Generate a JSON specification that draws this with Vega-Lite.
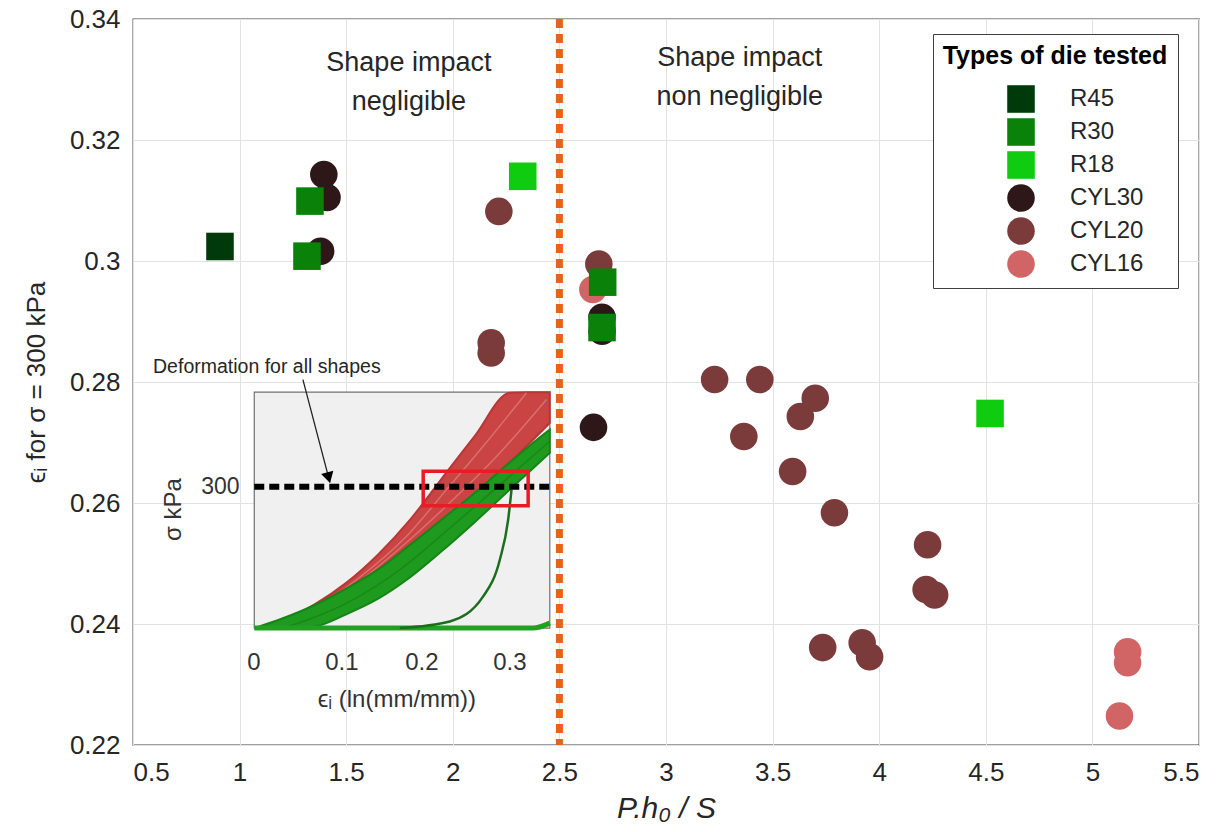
{
  "$schema": "https://vega.github.io/schema/vega-lite/v6.json",
  "autosize": {"type": "none"},
  "width": 1066,
  "height": 726,
  "padding": {"left": 133, "top": 19, "right": 26, "bottom": 87},
  "background": "white",
  "config": {
    "font": "Liberation Sans",
    "view": {"stroke": "#404040", "strokeWidth": 1.3},
    "axis": {"gridColor": "#E2E2E2", "gridWidth": 1, "domain": false, "labelColor": "#262626", "titleColor": "#262626", "tickColor": "#404040"}
  },
  "datasets": {
    "pts": [
      {"x": 2.657, "y": 0.2953, "die": "CYL16"},
      {"x": 5.165, "y": 0.2354, "die": "CYL16"},
      {"x": 5.165, "y": 0.2336, "die": "CYL16"},
      {"x": 5.127, "y": 0.2248, "die": "CYL16"},
      {"x": 2.216, "y": 0.3082, "die": "CYL20"},
      {"x": 2.18, "y": 0.2865, "die": "CYL20"},
      {"x": 2.18, "y": 0.2848, "die": "CYL20"},
      {"x": 2.685, "y": 0.2995, "die": "CYL20"},
      {"x": 3.228, "y": 0.2804, "die": "CYL20"},
      {"x": 3.44, "y": 0.2804, "die": "CYL20"},
      {"x": 3.70, "y": 0.2773, "die": "CYL20"},
      {"x": 3.63, "y": 0.2743, "die": "CYL20"},
      {"x": 3.365, "y": 0.271, "die": "CYL20"},
      {"x": 3.594, "y": 0.2652, "die": "CYL20"},
      {"x": 3.79, "y": 0.2584, "die": "CYL20"},
      {"x": 4.227, "y": 0.2531, "die": "CYL20"},
      {"x": 4.22, "y": 0.2457, "die": "CYL20"},
      {"x": 4.26, "y": 0.2448, "die": "CYL20"},
      {"x": 3.735, "y": 0.2361, "die": "CYL20"},
      {"x": 3.92, "y": 0.2369, "die": "CYL20"},
      {"x": 3.955, "y": 0.2346, "die": "CYL20"},
      {"x": 1.395, "y": 0.3143, "die": "CYL30"},
      {"x": 1.41, "y": 0.3105, "die": "CYL30"},
      {"x": 1.38, "y": 0.3016, "die": "CYL30"},
      {"x": 2.70, "y": 0.2907, "die": "CYL30"},
      {"x": 2.70, "y": 0.2884, "die": "CYL30"},
      {"x": 2.66, "y": 0.2725, "die": "CYL30"},
      {"x": 0.908, "y": 0.3024, "die": "R45"},
      {"x": 1.33, "y": 0.3099, "die": "R30"},
      {"x": 1.316, "y": 0.3008, "die": "R30"},
      {"x": 2.703, "y": 0.2965, "die": "R30"},
      {"x": 2.70, "y": 0.289, "die": "R30"},
      {"x": 2.328, "y": 0.314, "die": "R18"},
      {"x": 4.52, "y": 0.2748, "die": "R18"}
    ],
    "bands": [
      {"b": "red", "x": 1.0688, "lo": 0.23932, "hi": 0.23932},
      {"b": "red", "x": 1.2, "lo": 0.2403, "hi": 0.2406},
      {"b": "red", "x": 1.35, "lo": 0.2417, "hi": 0.2432},
      {"b": "red", "x": 1.5, "lo": 0.24506, "hi": 0.2468},
      {"b": "red", "x": 1.65, "lo": 0.24885, "hi": 0.2515},
      {"b": "red", "x": 1.8, "lo": 0.25308, "hi": 0.25725},
      {"b": "red", "x": 1.95, "lo": 0.25704, "hi": 0.26413},
      {"b": "red", "x": 2.1, "lo": 0.26118, "hi": 0.27093},
      {"b": "red", "x": 2.2675, "lo": 0.26671, "hi": 0.27821},
      {"b": "red", "x": 2.35, "lo": 0.26954, "hi": 0.27832},
      {"b": "red", "x": 2.455, "lo": 0.27325, "hi": 0.27832},
      {"b": "green", "x": 1.0688, "lo": 0.23932, "hi": 0.23932},
      {"b": "green", "x": 1.2, "lo": 0.23932, "hi": 0.2409},
      {"b": "green", "x": 1.35, "lo": 0.23959, "hi": 0.2431},
      {"b": "green", "x": 1.5, "lo": 0.24161, "hi": 0.24585},
      {"b": "green", "x": 1.65, "lo": 0.24418, "hi": 0.24902},
      {"b": "green", "x": 1.8, "lo": 0.24772, "hi": 0.25309},
      {"b": "green", "x": 1.95, "lo": 0.25209, "hi": 0.25732},
      {"b": "green", "x": 2.1, "lo": 0.25675, "hi": 0.26156},
      {"b": "green", "x": 2.2675, "lo": 0.26221, "hi": 0.26673},
      {"b": "green", "x": 2.35, "lo": 0.26488, "hi": 0.26918},
      {"b": "green", "x": 2.455, "lo": 0.26828, "hi": 0.27214}
    ],
    "curves": [
      {"s": "R2", "x": 1.0688, "y": 0.23932},
      {"s": "R2", "x": 1.3142, "y": 0.2418},
      {"s": "R2", "x": 1.5486, "y": 0.24731},
      {"s": "R2", "x": 1.783, "y": 0.25449},
      {"s": "R2", "x": 1.9706, "y": 0.26221},
      {"s": "R2", "x": 2.1425, "y": 0.26938},
      {"s": "R2", "x": 2.3456, "y": 0.27821},
      {"s": "R3", "x": 1.0688, "y": 0.23932},
      {"s": "R3", "x": 1.3376, "y": 0.2418},
      {"s": "R3", "x": 1.5721, "y": 0.24731},
      {"s": "R3", "x": 1.8065, "y": 0.25421},
      {"s": "R3", "x": 2.0174, "y": 0.26111},
      {"s": "R3", "x": 2.2206, "y": 0.26828},
      {"s": "R3", "x": 2.4394, "y": 0.27711},
      {"s": "G2", "x": 1.2048, "y": 0.23932},
      {"s": "G2", "x": 1.5174, "y": 0.24373},
      {"s": "G2", "x": 1.7518, "y": 0.24897},
      {"s": "G2", "x": 1.9862, "y": 0.25587},
      {"s": "G2", "x": 2.205, "y": 0.26249},
      {"s": "G2", "x": 2.455, "y": 0.27021},
      {"s": "S", "x": 1.7518, "y": 0.23932},
      {"s": "S", "x": 1.9862, "y": 0.24042},
      {"s": "S", "x": 2.1425, "y": 0.24456},
      {"s": "S", "x": 2.2206, "y": 0.25062},
      {"s": "S", "x": 2.2597, "y": 0.25725},
      {"s": "S", "x": 2.2753, "y": 0.26221},
      {"s": "B", "x": 1.0688, "y": 0.23932},
      {"s": "B", "x": 2.3769, "y": 0.23932},
      {"s": "B", "x": 2.455, "y": 0.24014}
    ]
  },
  "layer": [
    {
      "data": {"values": [{"x": 1.0688, "x2": 2.455, "y": 0.23932, "y2": 0.27832}]},
      "mark": {"type": "rect", "fill": "#F0F0F0", "stroke": "#707070", "strokeWidth": 1.2},
      "encoding": {
        "x": {"field": "x", "type": "quantitative", "scale": {"domain": [0.5, 5.5], "nice": false, "zero": false},
          "axis": {"values": [0.5, 1, 1.5, 2, 2.5, 3, 3.5, 4, 4.5, 5, 5.5], "format": "~g", "labelFontSize": 26, "labelPadding": 14, "ticks": false,
            "title": "P.h₀ / S", "titleFontSize": 30, "titleFontStyle": "italic", "titleFontWeight": "normal", "titlePadding": 8}},
        "x2": {"field": "x2"},
        "y": {"field": "y", "type": "quantitative", "scale": {"domain": [0.22, 0.34], "nice": false, "zero": false},
          "axis": {"values": [0.22, 0.24, 0.26, 0.28, 0.3, 0.32, 0.34], "format": "~g", "labelFontSize": 26, "labelPadding": 13, "ticks": false,
            "title": "ϵᵢ for σ = 300 kPa", "titleFontSize": 26, "titleFontWeight": "normal", "titlePadding": 20}},
        "y2": {"field": "y2"}
      }
    },
    {
      "data": {"name": "bands"},
      "transform": [{"filter": "datum.b === 'red'"}],
      "mark": {"type": "area", "color": "#C94442", "opacity": 1, "interpolate": "monotone", "stroke": "#B83636", "strokeWidth": 2},
      "encoding": {
        "x": {"field": "x", "type": "quantitative", "scale": {"domain": [0.5, 5.5]}},
        "y": {"field": "lo", "type": "quantitative", "scale": {"domain": [0.22, 0.34]}},
        "y2": {"field": "hi"}
      }
    },
    {
      "data": {"name": "curves"},
      "transform": [{"filter": "datum.s === 'R2' || datum.s === 'R3'"}],
      "mark": {"type": "line", "color": "#E07A78", "strokeWidth": 1.5, "opacity": 0.8, "interpolate": "monotone"},
      "encoding": {
        "x": {"field": "x", "type": "quantitative", "scale": {"domain": [0.5, 5.5]}},
        "y": {"field": "y", "type": "quantitative", "scale": {"domain": [0.22, 0.34]}},
        "detail": {"field": "s"}
      }
    },
    {
      "data": {"name": "bands"},
      "transform": [{"filter": "datum.b === 'green'"}],
      "mark": {"type": "area", "color": "#1E9A1E", "opacity": 1, "interpolate": "monotone", "stroke": "#178417", "strokeWidth": 2},
      "encoding": {
        "x": {"field": "x", "type": "quantitative", "scale": {"domain": [0.5, 5.5]}},
        "y": {"field": "lo", "type": "quantitative", "scale": {"domain": [0.22, 0.34]}},
        "y2": {"field": "hi"}
      }
    },
    {
      "data": {"name": "curves"},
      "transform": [{"filter": "datum.s === 'G2'"}],
      "mark": {"type": "line", "color": "#168016", "strokeWidth": 1.5, "opacity": 0.7, "interpolate": "monotone"},
      "encoding": {
        "x": {"field": "x", "type": "quantitative", "scale": {"domain": [0.5, 5.5]}},
        "y": {"field": "y", "type": "quantitative", "scale": {"domain": [0.22, 0.34]}}
      }
    },
    {
      "data": {"name": "curves"},
      "transform": [{"filter": "datum.s === 'B'"}],
      "mark": {"type": "line", "color": "#22A022", "strokeWidth": 5, "interpolate": "monotone"},
      "encoding": {
        "x": {"field": "x", "type": "quantitative", "scale": {"domain": [0.5, 5.5]}},
        "y": {"field": "y", "type": "quantitative", "scale": {"domain": [0.22, 0.34]}}
      }
    },
    {
      "data": {"name": "curves"},
      "transform": [{"filter": "datum.s === 'S'"}],
      "mark": {"type": "line", "color": "#1C6E1C", "strokeWidth": 2.5, "interpolate": "monotone"},
      "encoding": {
        "x": {"field": "x", "type": "quantitative", "scale": {"domain": [0.5, 5.5]}},
        "y": {"field": "y", "type": "quantitative", "scale": {"domain": [0.22, 0.34]}}
      }
    },
    {
      "data": {"values": [{"x": 1.0688, "x2": 2.455, "y": 0.2627}]},
      "mark": {"type": "rule", "color": "black", "strokeWidth": 6, "strokeDash": [10, 5]},
      "encoding": {
        "x": {"field": "x", "type": "quantitative", "scale": {"domain": [0.5, 5.5]}},
        "x2": {"field": "x2"},
        "y": {"field": "y", "type": "quantitative", "scale": {"domain": [0.22, 0.34]}}
      }
    },
    {
      "data": {"values": [{"x": 1.8612, "x2": 2.3534, "y": 0.25956, "y2": 0.26526}]},
      "mark": {"type": "rect", "fill": null, "fillOpacity": 0, "stroke": "#E81C24", "strokeWidth": 3.5},
      "encoding": {
        "x": {"field": "x", "type": "quantitative", "scale": {"domain": [0.5, 5.5]}},
        "x2": {"field": "x2"},
        "y": {"field": "y", "type": "quantitative", "scale": {"domain": [0.22, 0.34]}},
        "y2": {"field": "y2"}
      }
    },
    {
      "data": {"values": [{"x": 2.5}]},
      "mark": {"type": "rule", "color": "#E8631A", "strokeWidth": 7, "strokeDash": [9, 6]},
      "encoding": {
        "x": {"field": "x", "type": "quantitative", "scale": {"domain": [0.5, 5.5]}}
      }
    },
    {
      "data": {"name": "pts"},
      "mark": {"type": "point", "filled": true, "opacity": 1, "strokeWidth": 0},
      "encoding": {
        "x": {"field": "x", "type": "quantitative", "scale": {"domain": [0.5, 5.5]}},
        "y": {"field": "y", "type": "quantitative", "scale": {"domain": [0.22, 0.34]}},
        "color": {"field": "die", "type": "nominal", "title": "Types of die tested",
          "scale": {"domain": ["R45", "R30", "R18", "CYL30", "CYL20", "CYL16"], "range": ["#013A0A", "#0A820A", "#10CC10", "#2E1719", "#7B3B3B", "#D16565"]},
          "legend": {"orient": "none", "legendX": 800, "legendY": 15, "strokeColor": "#404040", "fillColor": "white", "padding": 10,
            "titleFontSize": 25, "titleFontWeight": "bold", "titleColor": "black", "titleAnchor": "middle", "titlePadding": 16, "titleLimit": 400,
            "labelFontSize": 24, "labelColor": "#262626", "symbolOffset": 41, "labelOffset": 35, "rowPadding": 5, "symbolStrokeWidth": 0}},
        "shape": {"field": "die", "type": "nominal", "title": "Types of die tested",
          "scale": {"domain": ["R45", "R30", "R18", "CYL30", "CYL20", "CYL16"], "range": ["square", "square", "square", "circle", "circle", "circle"]}},
        "size": {"field": "die", "type": "nominal", "title": "Types of die tested",
          "scale": {"domain": ["R45", "R30", "R18", "CYL30", "CYL20", "CYL16"], "range": [760, 760, 760, 1040, 1040, 1040]}}
      }
    },
    {
      "data": {"values": [
        {"x": 1.794, "y": 0.33139, "t": "Shape impact"},
        {"x": 1.794, "y": 0.32494, "t": "negligible"},
        {"x": 3.346, "y": 0.33222, "t": "Shape impact"},
        {"x": 3.346, "y": 0.32577, "t": "non negligible"}
      ]},
      "mark": {"type": "text", "fontSize": 27, "color": "#262626", "align": "center", "baseline": "alphabetic"},
      "encoding": {
        "x": {"field": "x", "type": "quantitative", "scale": {"domain": [0.5, 5.5]}},
        "y": {"field": "y", "type": "quantitative", "scale": {"domain": [0.22, 0.34]}},
        "text": {"field": "t"}
      }
    },
    {
      "data": {"values": [{"x": 0.594, "y": 0.2824, "t": "Deformation for all shapes"}]},
      "mark": {"type": "text", "fontSize": 19.5, "color": "#262626", "align": "left", "baseline": "middle"},
      "encoding": {
        "x": {"field": "x", "type": "quantitative", "scale": {"domain": [0.5, 5.5]}},
        "y": {"field": "y", "type": "quantitative", "scale": {"domain": [0.22, 0.34]}},
        "text": {"field": "t"}
      }
    },
    {
      "data": {"values": [
        {"x": 1.0673, "y": 0.23358, "t": "0"},
        {"x": 1.4798, "y": 0.23358, "t": "0.1"},
        {"x": 1.855, "y": 0.23358, "t": "0.2"},
        {"x": 2.2675, "y": 0.23358, "t": "0.3"},
        {"x": 1.7377, "y": 0.2275, "t": "ϵᵢ (ln(mm/mm))"}
      ]},
      "mark": {"type": "text", "fontSize": 24, "color": "#333333", "align": "center", "baseline": "middle"},
      "encoding": {
        "x": {"field": "x", "type": "quantitative", "scale": {"domain": [0.5, 5.5]}},
        "y": {"field": "y", "type": "quantitative", "scale": {"domain": [0.22, 0.34]}},
        "text": {"field": "t"}
      }
    },
    {
      "data": {"values": [{"x": 1.0, "y": 0.2627, "t": "300"}]},
      "mark": {"type": "text", "fontSize": 23, "color": "#333333", "align": "right", "baseline": "middle"},
      "encoding": {
        "x": {"field": "x", "type": "quantitative", "scale": {"domain": [0.5, 5.5]}},
        "y": {"field": "y", "type": "quantitative", "scale": {"domain": [0.22, 0.34]}},
        "text": {"field": "t"}
      }
    },
    {
      "data": {"values": [{"x": 0.692, "y": 0.2589, "t": "σ kPa"}]},
      "mark": {"type": "text", "fontSize": 24, "color": "#333333", "align": "center", "baseline": "middle", "angle": 270},
      "encoding": {
        "x": {"field": "x", "type": "quantitative", "scale": {"domain": [0.5, 5.5]}},
        "y": {"field": "y", "type": "quantitative", "scale": {"domain": [0.22, 0.34]}},
        "text": {"field": "t"}
      }
    },
    {
      "data": {"values": [{"x": 1.297, "y": 0.2804, "x2": 1.4236, "y2": 0.2634}]},
      "mark": {"type": "rule", "color": "#222222", "strokeWidth": 1.3},
      "encoding": {
        "x": {"field": "x", "type": "quantitative", "scale": {"domain": [0.5, 5.5]}},
        "y": {"field": "y", "type": "quantitative", "scale": {"domain": [0.22, 0.34]}},
        "x2": {"field": "x2"},
        "y2": {"field": "y2"}
      }
    },
    {
      "data": {"values": [{"x": 1.4176, "y": 0.2642}]},
      "mark": {"type": "point", "shape": "triangle-down", "filled": true, "color": "black", "opacity": 1, "size": 160, "angle": 345},
      "encoding": {
        "x": {"field": "x", "type": "quantitative", "scale": {"domain": [0.5, 5.5]}},
        "y": {"field": "y", "type": "quantitative", "scale": {"domain": [0.22, 0.34]}}
      }
    }
  ]
}
